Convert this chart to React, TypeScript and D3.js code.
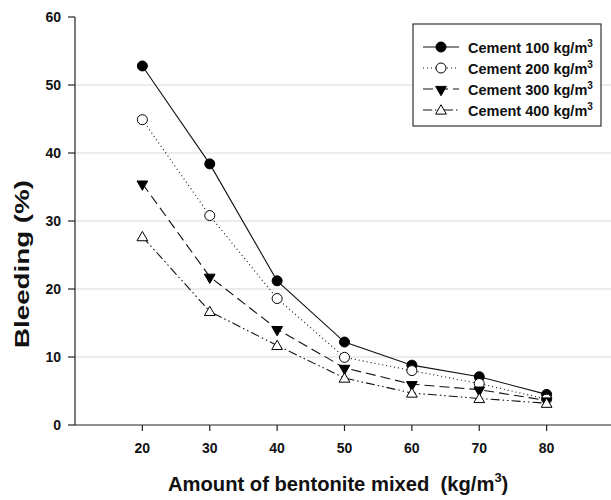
import React from "react";
import * as d3 from "d3";

const bentonite = [20, 30, 40, 50, 60, 70, 80];
const cement100 = [52.8, 38.4, 21.2, 12.2, 8.8, 7.1, 4.5];
const cement200 = [44.9, 30.8, 18.6, 9.95, 8.0, 6.1, 3.8];
const cement300 = [35.5, 21.8, 14.1, 8.4, 6.0, 5.2, 3.6];
const cement400 = [27.7, 16.7, 11.7, 6.9, 4.7, 3.9, 3.2];
const seriesNames = ["Cement 100", "Cement 200", "Cement 300", "Cement 400"];
const xTicks = [20, 30, 40, 50, 60, 70, 80];
const yTicks = [0, 10, 20, 30, 40, 50, 60];
const gridTicks = [10, 20, 30, 40, 50];

const W = 611;
const H = 500;
const FONT = "'Liberation Sans', Arial, sans-serif";

const seriesData = [cement100, cement200, cement300, cement400];
const dashes = ["none", "1,3", "10,5", "9,3,1.5,3,1.5,3"];

function Marker({ kind, x, y }: { kind: number; x: number; y: number }) {
  if (kind === 0) return <circle cx={x} cy={y} r={5} fill="#000" stroke="#000" strokeWidth={1} />;
  if (kind === 1) return <circle cx={x} cy={y} r={5} fill="#fff" stroke="#000" strokeWidth={1} />;
  const tri = d3.symbol().type(d3.symbolTriangle).size(50)() as string;
  if (kind === 2)
    return <path d={tri} transform={`translate(${x},${y + 0.5}) rotate(180)`} fill="#000" stroke="#000" strokeWidth={1} />;
  return <path d={tri} transform={`translate(${x},${y + 1})`} fill="#fff" stroke="#000" strokeWidth={1} />;
}

export default function App() {
  const x = d3.scaleLinear().domain([10, 90]).range([75, 614]);
  const y = d3.scaleLinear().domain([0, 60]).range([425, 17]);
  const line = d3
    .line<number>()
    .x((_, i) => x(bentonite[i]))
    .y((d) => y(d));

  const legX = 413;
  const legY = 24;
  const rowY = (i: number) => 47 + i * 21;

  return (
    <svg width={W} height={H} style={{ position: "absolute", left: 0, top: 0, fontFamily: FONT }}>
      <rect x={0} y={0} width={W} height={H} fill="#fff" />
      {gridTicks.map((t) => (
        <line key={t} x1={x(10)} x2={W} y1={y(t)} y2={y(t)} stroke="#d9d9d9" strokeWidth={1.2} />
      ))}
      {/* axes */}
      <line x1={x(10)} x2={x(10)} y1={y(60)} y2={y(0)} stroke="#222" strokeWidth={1.2} />
      <line x1={x(10)} x2={W} y1={y(0)} y2={y(0)} stroke="#222" strokeWidth={1.2} />
      {yTicks.map((t) => (
        <g key={t}>
          <line x1={x(10) - 7} x2={x(10)} y1={y(t)} y2={y(t)} stroke="#222" strokeWidth={1.2} />
          <text x={61} y={y(t) + 5} textAnchor="end" fontSize={14} fontWeight="bold" fill="#111">
            {t}
          </text>
        </g>
      ))}
      {xTicks.map((t) => (
        <g key={t}>
          <line x1={x(t)} x2={x(t)} y1={y(0)} y2={y(0) + 6} stroke="#222" strokeWidth={1.2} />
          <text x={x(t)} y={453} textAnchor="middle" fontSize={14} fontWeight="bold" fill="#111">
            {t}
          </text>
        </g>
      ))}
      {/* series */}
      {seriesData.map((s, k) => (
        <path key={k} d={line(s) as string} fill="none" stroke="#111" strokeWidth={1.1} strokeDasharray={dashes[k]} />
      ))}
      {seriesData.map((s, k) =>
        s.map((v, i) => <Marker key={`${k}-${i}`} kind={k} x={x(bentonite[i])} y={y(v)} />)
      )}
      {/* legend */}
      <rect x={legX} y={legY} width={188} height={102} fill="#fff" stroke="#333" strokeWidth={1.2} />
      {seriesNames.map((n, k) => (
        <g key={n}>
          <line x1={423} x2={459} y1={rowY(k)} y2={rowY(k)} stroke="#111" strokeWidth={1.1} strokeDasharray={dashes[k]} />
          <Marker kind={k} x={441} y={rowY(k)} />
          <text x={468} y={rowY(k) + 5.5} fontSize={14.5} fontWeight="bold" fill="#111">
            {n} kg/m
            <tspan dy={-6} fontSize={10}>3</tspan>
          </text>
        </g>
      ))}
      {/* axis titles */}
      <text
        transform={`translate(29,264) rotate(-90)`}
        textAnchor="middle"
        fontSize={21}
        fontWeight="bold"
        fill="#111"
        textLength={168}
        lengthAdjust="spacingAndGlyphs"
      >
        Bleeding (%)
      </text>
      <text x={168} y={491} fontSize={20.2} fontWeight="bold" fill="#111">
        {"Amount of bentonite mixed\u00a0 (kg/m"}
        <tspan dy={-9} fontSize={13}>3</tspan>
        <tspan dy={9}>)</tspan>
      </text>
    </svg>
  );
}
